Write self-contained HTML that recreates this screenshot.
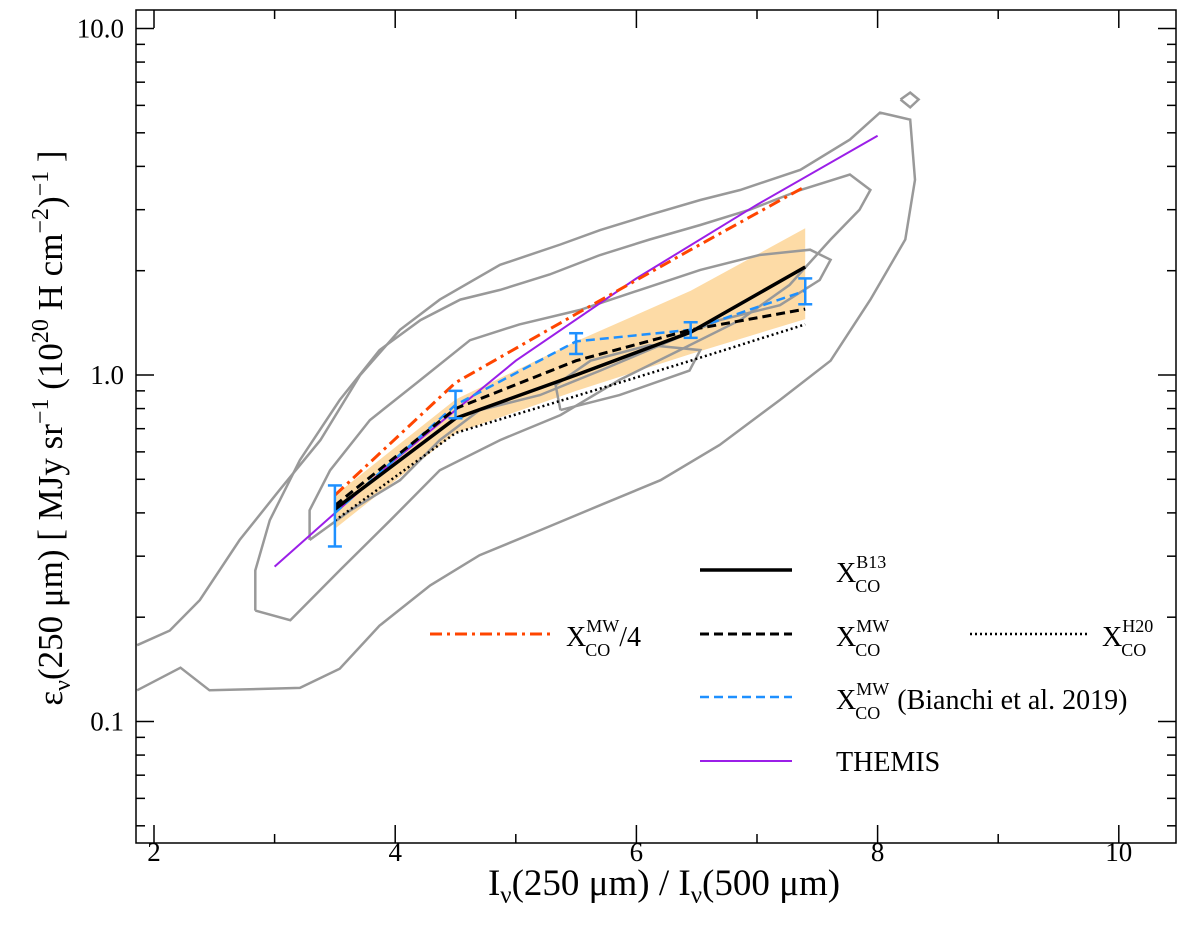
<!DOCTYPE html>
<html><head><meta charset="utf-8">
<style>
body{margin:0;background:#fff;}
svg{display:block;font-family:"Liberation Serif",serif;}
</style></head>
<body>
<svg id="chart" width="1200" height="936" viewBox="0 0 1200 936">
<rect x="0" y="0" width="1200" height="936" fill="#fff"/>
<g id="band"></g>
<g id="contours"></g>
<g id="series"></g>
<g id="axes"></g>
<g id="legend"></g>
</svg>
<script>
// ---- data ----
const xBins = [3.5, 4.5, 5.5, 6.45, 7.4];
const b13 = [0.41, 0.75, 1.0, 1.33, 2.05];
const mw = [0.42, 0.80, 1.10, 1.35, 1.55];
const h20 = [0.38, 0.68, 0.87, 1.10, 1.40];
const mw4 = [0.45, 0.95, 1.50, 2.30, 3.50];
const bianchi = [0.40, 0.82, 1.25, 1.35, 1.75];
const bianchiLo = [0.32, 0.75, 1.15, 1.28, 1.60];
const bianchiHi = [0.48, 0.90, 1.32, 1.42, 1.90];
const bandLo = [0.36, 0.68, 0.90, 1.15, 1.45];
const bandHi = [0.45, 0.85, 1.25, 1.75, 2.65];
const themisX = [3, 4, 5, 6, 7, 8];
const themisY = [0.28, 0.57, 1.1, 1.9, 3.1, 4.9];
const contour1X = [1.86,2.22,2.46,3.21,3.54,3.87,4.29,4.70,5.20,5.70,6.20,6.69,7.19,7.61,7.94,8.23,8.31,8.27,8.02,7.77,7.36,6.86,6.53,6.11,5.70,5.37,4.87,4.37,4.04,3.71,3.38,3.04,2.71,2.38,2.13,1.86];
const contour1Y = [0.123,0.143,0.123,0.125,0.142,0.189,0.247,0.302,0.356,0.421,0.497,0.628,0.847,1.10,1.65,2.46,3.66,5.46,5.72,4.78,3.91,3.42,3.20,2.90,2.62,2.38,2.08,1.65,1.35,1.0,0.649,0.465,0.334,0.224,0.183,0.166];
const contour2X = [2.84,3.13,3.54,3.96,4.37,4.87,5.37,5.86,6.36,6.86,7.27,7.61,7.85,7.94,7.77,7.36,6.94,6.53,6.11,5.70,5.28,4.87,4.54,4.21,3.87,3.54,3.21,2.96,2.84,2.84];
const contour2Y = [0.209,0.196,0.273,0.381,0.531,0.649,0.766,0.968,1.18,1.44,1.82,2.46,3.00,3.42,3.79,3.42,3.00,2.71,2.46,2.22,1.95,1.76,1.65,1.44,1.18,0.847,0.568,0.381,0.273,0.209];
const contour3X = [3.29,3.63,4.04,4.37,4.70,5.20,5.70,6.20,6.69,7.19,7.52,7.61,7.44,7.02,6.53,6.03,5.53,5.03,4.62,4.21,3.79,3.46,3.29,3.29];
const contour3Y = [0.334,0.407,0.497,0.649,0.792,0.875,1.03,1.22,1.44,1.59,1.88,2.15,2.30,2.22,2.01,1.76,1.54,1.40,1.26,0.968,0.741,0.531,0.407,0.334];
const contour4X = [5.37,5.86,6.44,6.53,6.11,5.62,5.33,5.37];
const contour4Y = [0.792,0.875,1.03,1.18,1.22,1.10,0.935,0.792];
const contour5X = [8.19,8.27,8.34,8.27,8.19];
const contour5Y = [6.24,6.53,6.24,5.92,6.24];
const xTicks = [2, 4, 6, 8, 10];
const xTickLabels = ["2", "4", "6", "8", "10"];
const yTicks = [0.1, 1, 10];
const yTickLabels = ["0.1", "1.0", "10.0"];

// ---- scales ----
const L=136, R=1176, T=10, B=843;
const sx = v => 154 + (v - 2) * 120.6;
const sy = v => 375 - Math.log10(v) * 346.5;
const NS = "http://www.w3.org/2000/svg";
function mk(tag, parent, attrs){const e=document.createElementNS(NS,tag);for(const k in attrs)e.setAttribute(k,attrs[k]);parent.appendChild(e);return e;}
function pts(xs, ys){return xs.map((x,i)=>sx(x).toFixed(1)+","+sy(ys[i]).toFixed(1)).join(" ");}

// band
const band=document.getElementById("band");
const bp = mk("polygon", band, {points: pts(xBins,bandHi)+" "+pts(xBins.slice().reverse(), bandLo.slice().reverse()), fill:"#fddba6", stroke:"none"});



// contours
const cg=document.getElementById("contours");
[[contour1X,contour1Y],[contour2X,contour2Y],[contour3X,contour3Y],[contour4X,contour4Y],[contour5X,contour5Y]].forEach((c,i)=>{
  const p=mk("polyline", cg, {points:pts(c[0],c[1]), fill:"none", stroke:"#999", "stroke-width":2.5});
  
  
});

// series
const sg=document.getElementById("series");
function line(xs, ys, stroke, w, dash, name){
  const p=mk("polyline", sg, {points:pts(xs,ys), fill:"none", stroke:stroke, "stroke-width":w});
  if(dash) p.setAttribute("stroke-dasharray", dash);
  
  
}
line(themisX, themisY, "#9b1fe8", 2, null, "themis-line");
line(xBins, mw4, "#ff4500", 3, "12,5,3,5", "xco-mw4-line");
line(xBins, bianchi, "#1e90ff", 2.5, "9,5", "bianchi-line");
line(xBins, h20, "#000", 2.5, "2,3", "xco-h20-line");
line(xBins, mw, "#000", 3, "9,5", "xco-mw-line");
line(xBins, b13, "#000", 3.5, null, "xco-b13-line");
xBins.forEach((x,i)=>{
  const g=mk("g", sg, {stroke:"#1e90ff","stroke-width":2.5});
  
  
  mk("line", g, {x1:sx(x),x2:sx(x),y1:sy(bianchiLo[i]),y2:sy(bianchiHi[i])});
  mk("line", g, {x1:sx(x)-7,x2:sx(x)+7,y1:sy(bianchiLo[i]),y2:sy(bianchiLo[i])});
  mk("line", g, {x1:sx(x)-7,x2:sx(x)+7,y1:sy(bianchiHi[i]),y2:sy(bianchiHi[i])});
});

// axes
const ag=document.getElementById("axes");
const frame=mk("rect", ag, {x:L,y:T,width:R-L,height:B-T,fill:"none",stroke:"#000","stroke-width":1.5});


for(let v=2; v<=10.4; v+=1){
  const major = xTicks.includes(v);
  const len = major?18:9;
  mk("line", ag, {x1:sx(v),x2:sx(v),y1:B,y2:B-len,stroke:"#000","stroke-width":1.5});
  mk("line", ag, {x1:sx(v),x2:sx(v),y1:T,y2:T+len,stroke:"#000","stroke-width":1.5});
}
xTicks.forEach((v,i)=>{
  const t=mk("text", ag, {x:sx(v),y:B+18,"text-anchor":"middle","font-size":27});
  t.textContent=xTickLabels[i];
  
  
});
for(let d=-2; d<=1; d++){
  for(let m=1; m<=9; m++){
    const v=m*Math.pow(10,d);
    const y=sy(v);
    if(y<T||y>B) continue;
    const len = m===1?18:9;
    mk("line", ag, {x1:L,x2:L+len,y1:y,y2:y,stroke:"#000","stroke-width":1.5});
    mk("line", ag, {x1:R,x2:R-len,y1:y,y2:y,stroke:"#000","stroke-width":1.5});
  }
}
yTicks.forEach((v,i)=>{
  const t=mk("text", ag, {x:L-12,y:sy(v)+9,"text-anchor":"end","font-size":27});
  t.textContent=yTickLabels[i];
  
  
});
</script>
<svg x="0" y="0" width="1200" height="936" style="position:absolute;left:0;top:0">
<text x="664" y="895" text-anchor="middle" font-size="37" font-family="Liberation Serif, serif">I<tspan font-size="25" dy="8">ν</tspan><tspan dy="-8">(250 μm) / I</tspan><tspan font-size="25" dy="8">ν</tspan><tspan dy="-8">(500 μm)</tspan></text>
<text transform="translate(62,428) rotate(-90)" text-anchor="middle" font-size="35" font-family="Liberation Serif, serif">ε<tspan font-size="24" dy="8">ν</tspan><tspan dy="-8">(250 μm) [ MJy sr</tspan><tspan font-size="24" dy="-14">−1</tspan><tspan dy="14"> (10</tspan><tspan font-size="24" dy="-14">20</tspan><tspan dy="14"> H cm</tspan><tspan font-size="24" dy="-14">−2</tspan><tspan dy="14">)</tspan><tspan font-size="24" dy="-14">−1</tspan><tspan dy="14"> ]</tspan></text>
<g font-family="Liberation Serif, serif" font-size="28">
<g><line x1="700" x2="792" y1="570" y2="570" stroke="#000" stroke-width="3.5"/><text x="836" y="582">X<tspan font-size="18" dx="-1" dy="10">CO</tspan><tspan font-size="18" dx="-24" dy="-24">B13</tspan></text></g>
<g><line x1="430" x2="550" y1="634" y2="634" stroke="#ff4500" stroke-width="3" stroke-dasharray="12,5,3,5"/><text x="566" y="646">X<tspan font-size="18" dx="-1" dy="10">CO</tspan><tspan font-size="18" dx="-24" dy="-24">MW</tspan><tspan dy="14">/4</tspan></text></g>
<g><line x1="700" x2="792" y1="634" y2="634" stroke="#000" stroke-width="3" stroke-dasharray="9,5"/><text x="836" y="646">X<tspan font-size="18" dx="-1" dy="10">CO</tspan><tspan font-size="18" dx="-24" dy="-24">MW</tspan></text></g>
<g><line x1="970" x2="1090" y1="634" y2="634" stroke="#000" stroke-width="2.5" stroke-dasharray="2,3"/><text x="1102" y="646">X<tspan font-size="18" dx="-1" dy="10">CO</tspan><tspan font-size="18" dx="-24" dy="-24">H20</tspan></text></g>
<g><line x1="700" x2="792" y1="697" y2="697" stroke="#1e90ff" stroke-width="2.5" stroke-dasharray="9,5"/><text x="836" y="709">X<tspan font-size="18" dx="-1" dy="10">CO</tspan><tspan font-size="18" dx="-24" dy="-24">MW</tspan><tspan dx="8" dy="14">(Bianchi et al. 2019)</tspan></text></g>
<g><line x1="700" x2="792" y1="761" y2="761" stroke="#9b1fe8" stroke-width="2"/><text x="836" y="771">THEMIS</text></g>
</g>
</svg>
</body></html>
